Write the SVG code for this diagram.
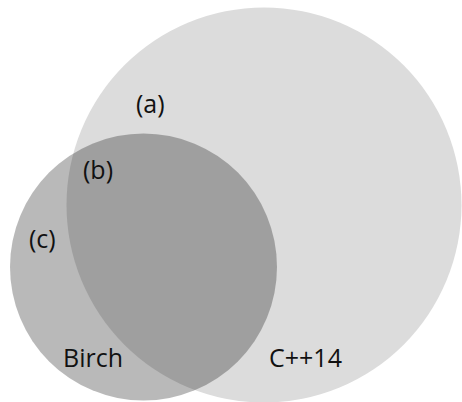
<svg xmlns="http://www.w3.org/2000/svg" width="462" height="402" viewBox="0 0 462 402">
  <style>
    .lbl { font-family: "Open Sans", "Noto Sans", sans-serif; font-size: 25px; fill: #111111; }
  </style>
  <rect width="462" height="402" fill="#ffffff"/>
  <g id="cpp14">
    <circle cx="264" cy="205" r="197.5" fill="#dcdcdc"/>
  </g>
  <g id="birch">
    <circle cx="143.5" cy="267" r="133.5" fill="#000000" fill-opacity="0.275"/>
  </g>
  <g id="labels">
    <text class="lbl" x="136" y="113">(a)</text>
    <text class="lbl" x="83" y="179">(b)</text>
    <text class="lbl" x="29" y="248">(c)</text>
    <text class="lbl" x="63" y="367">Birch</text>
    <text class="lbl" x="269" y="367">C++14</text>
  </g>
</svg>
